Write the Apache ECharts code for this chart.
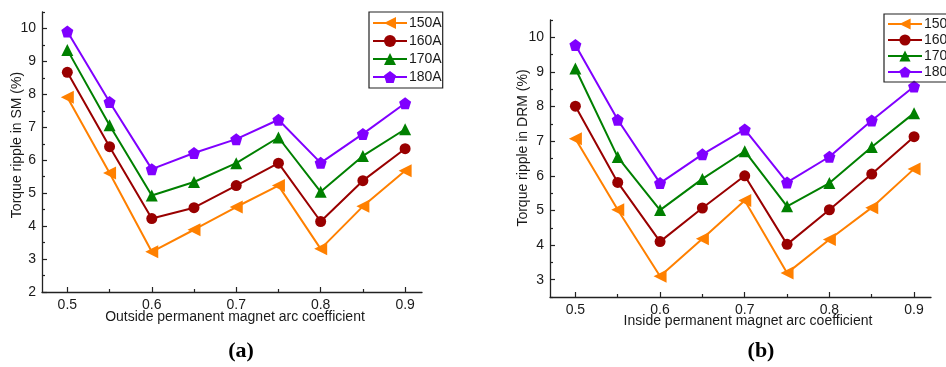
<!DOCTYPE html>
<html>
<head>
<meta charset="utf-8">
<script src="https://cdn.jsdelivr.net/npm/echarts@6/dist/echarts.min.js"></script>
<style>
  html, body { margin: 0; padding: 0; background: #fff; }
  #chart { width: 946px; height: 367px; }
</style>
</head>
<body>
<div id="chart"></div>
<script>
// Permanent magnet arc coefficient (x values shared by both panels)
const arcCoefficient = [0.5, 0.55, 0.6, 0.65, 0.7, 0.75, 0.8, 0.85, 0.9];
const seriesNames = ['150A', '160A', '170A', '180A'];

// (a) Torque ripple in SM (%) vs outside magnet arc coefficient
const smRipple150 = [7.91, 5.61, 3.22, 3.89, 4.58, 5.23, 3.31, 4.60, 5.68];
const smRipple160 = [8.67, 6.41, 4.23, 4.56, 5.23, 5.91, 4.14, 5.38, 6.35];
const smRipple170 = [9.35, 7.06, 4.93, 5.34, 5.91, 6.69, 5.04, 6.13, 6.94];
const smRipple180 = [9.91, 7.77, 5.73, 6.22, 6.64, 7.23, 5.92, 6.80, 7.73];

// (b) Torque ripple in DRM (%) vs inside magnet arc coefficient
const drmRipple150 = [7.07, 5.02, 3.10, 4.18, 5.29, 3.19, 4.16, 5.08, 6.20];
const drmRipple160 = [8.01, 5.81, 4.10, 5.07, 6.00, 4.02, 5.02, 6.05, 7.13];
const drmRipple170 = [9.10, 6.54, 5.01, 5.91, 6.71, 5.12, 5.79, 6.83, 7.81];
const drmRipple180 = [9.78, 7.62, 5.79, 6.62, 7.34, 5.81, 6.55, 7.60, 8.58];

// Tick values
const xMajorTicks = [0.5, 0.6, 0.7, 0.8, 0.9];
const xMinorTicks = [0.55, 0.65, 0.75, 0.85];
const smYMajor = [2, 3, 4, 5, 6, 7, 8, 9, 10];
const smYMinor = [2.5, 3.5, 4.5, 5.5, 6.5, 7.5, 8.5, 9.5, 10.5];
const drmYMajor = [3, 4, 5, 6, 7, 8, 9, 10];
const drmYMinor = [2.5, 3.5, 4.5, 5.5, 6.5, 7.5, 8.5, 9.5, 10.5];

const colors = ['#FF8000', '#990000', '#008000', '#8000FF'];
const pentagon = 'path://M0,-1 L0.951,-0.309 L0.588,0.809 L-0.588,0.809 L-0.951,-0.309 Z';
const symbols = [
  { symbol: 'triangle', symbolSize: 13, symbolRotate: 90 },
  { symbol: 'circle', symbolSize: 11, symbolRotate: 0 },
  { symbol: 'triangle', symbolSize: 12, symbolRotate: 0 },
  { symbol: pentagon, symbolSize: 12, symbolRotate: 0 }
];

const FONT = 'Liberation Sans';
const TEXT_COLOR = '#1a1a1a';
const AXIS_COLOR = '#222';

function xAxes(gridIndex) {
  const base = {
    type: 'value', gridIndex: gridIndex, min: 0.47, max: 0.92, position: 'bottom',
    splitLine: { show: false },
    axisLine: { show: true, onZero: false, lineStyle: { color: AXIS_COLOR, width: 1.3 } }
  };
  return [
    Object.assign({}, base, {
      axisTick: { show: true, inside: true, length: 5, customValues: xMajorTicks, lineStyle: { color: AXIS_COLOR, width: 1.2 } },
      axisLabel: { show: true, customValues: xMajorTicks, margin: 6, fontFamily: FONT, fontSize: 14, color: TEXT_COLOR,
                   formatter: v => v.toFixed(1) }
    }),
    Object.assign({}, base, {
      axisLine: { show: false, onZero: false },
      axisTick: { show: true, inside: true, length: 3, customValues: xMinorTicks, lineStyle: { color: AXIS_COLOR, width: 1.2 } },
      axisLabel: { show: false }
    })
  ];
}

function yAxes(gridIndex, min, max, major, minor) {
  const base = {
    type: 'value', gridIndex: gridIndex, min: min, max: max, position: 'left',
    splitLine: { show: false },
    axisLine: { show: true, onZero: false, lineStyle: { color: AXIS_COLOR, width: 1.3 } }
  };
  return [
    Object.assign({}, base, {
      axisTick: { show: true, inside: true, length: 5, customValues: major, lineStyle: { color: AXIS_COLOR, width: 1.2 } },
      axisLabel: { show: true, customValues: major, margin: 6, fontFamily: FONT, fontSize: 14, color: TEXT_COLOR }
    }),
    Object.assign({}, base, {
      axisLine: { show: false, onZero: false },
      axisTick: { show: true, inside: true, length: 3, customValues: minor, lineStyle: { color: AXIS_COLOR, width: 1.2 } },
      axisLabel: { show: false }
    })
  ];
}

function lineSeries(name, idx, values, xIndex, yIndex) {
  const s = symbols[idx];
  return {
    name: name, type: 'line',
    xAxisIndex: xIndex, yAxisIndex: yIndex,
    data: arcCoefficient.map((x, i) => [x, values[i]]),
    symbol: s.symbol, symbolSize: s.symbolSize, symbolRotate: s.symbolRotate,
    showAllSymbol: true,
    lineStyle: { color: colors[idx], width: 2 },
    itemStyle: { color: colors[idx], borderWidth: 0 },
    emphasis: { disabled: true },
    animation: false
  };
}

const smData = [smRipple150, smRipple160, smRipple170, smRipple180];
const drmData = [drmRipple150, drmRipple160, drmRipple170, drmRipple180];

const series = [];
seriesNames.forEach((n, i) => series.push(lineSeries(n, i, smData[i], 0, 0)));
seriesNames.forEach((n, i) => series.push(lineSeries(n, i, drmData[i], 2, 2)));

const legendBase = {
  orient: 'vertical',
  data: seriesNames,
  itemWidth: 34,
  borderColor: '#222',
  borderWidth: 1.2,
  borderRadius: 0,
  selectedMode: false,
  textStyle: { fontFamily: FONT, fontSize: 14, color: TEXT_COLOR, padding: [0, 0, 0, -3] }
};

const option = {
  backgroundColor: '#fff',
  animation: false,
  color: colors,
  grid: [
    { left: 42, top: 12, width: 380, height: 280 },
    { left: 550, top: 20, width: 381, height: 277 }
  ],
  xAxis: [].concat(xAxes(0), xAxes(1)),
  yAxis: [].concat(yAxes(0, 2, 10.5, smYMajor, smYMinor), yAxes(1, 2.5, 10.5, drmYMajor, drmYMinor)),
  legend: [
    Object.assign({}, legendBase, { left: 369, top: 12, itemHeight: 15, itemGap: 4, padding: [4, 1, 4, 3] }),
    Object.assign({}, legendBase, { left: 884, top: 14, itemHeight: 14, itemGap: 2, padding: [3, 30, 3, 3] })
  ],
  series: series,
  graphic: [
    { type: 'text', x: 17, y: 145, rotation: Math.PI / 2,
      style: { text: 'Torque ripple in SM (%)', fontFamily: FONT, fontSize: 14, fill: TEXT_COLOR,
               align: 'center', verticalAlign: 'middle' } },
    { type: 'text', x: 235, y: 317,
      style: { text: 'Outside permanent magnet arc coefficient', fontFamily: FONT, fontSize: 14, fill: TEXT_COLOR,
               align: 'center', verticalAlign: 'middle' } },
    { type: 'text', x: 523, y: 148, rotation: Math.PI / 2,
      style: { text: 'Torque ripple in DRM (%)', fontFamily: FONT, fontSize: 14, fill: TEXT_COLOR,
               align: 'center', verticalAlign: 'middle' } },
    { type: 'text', x: 748, y: 321,
      style: { text: 'Inside permanent magnet arc coefficient', fontFamily: FONT, fontSize: 14, fill: TEXT_COLOR,
               align: 'center', verticalAlign: 'middle' } },
    { type: 'text', x: 241, y: 351,
      style: { text: '(a)', fontFamily: 'Liberation Serif', fontSize: 22, fontWeight: 'bold', fill: '#000',
               align: 'center', verticalAlign: 'middle' } },
    { type: 'text', x: 761, y: 351,
      style: { text: '(b)', fontFamily: 'Liberation Serif', fontSize: 22, fontWeight: 'bold', fill: '#000',
               align: 'center', verticalAlign: 'middle' } }
  ]
};

const chart = echarts.init(document.getElementById('chart'), null, { renderer: 'canvas' });
chart.setOption(option);
</script>
</body>
</html>
